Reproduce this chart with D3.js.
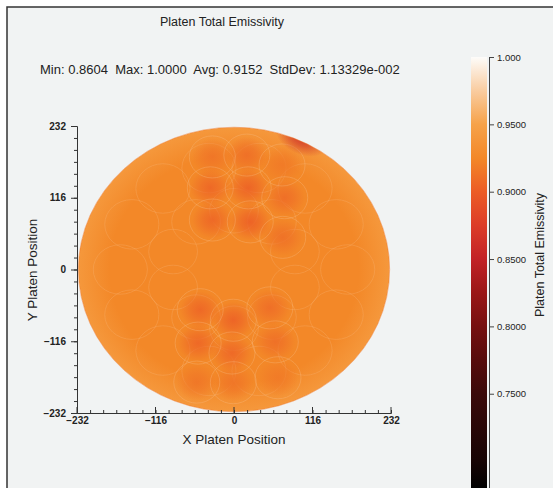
<!DOCTYPE html>
<html>
<head>
<meta charset="utf-8">
<script src="https://cdn.jsdelivr.net/npm/d3@7"></script>
<style>
  body { margin: 0; background: #fff; }
  svg text { font-family: "Liberation Sans", Arial, sans-serif; fill: #222; }
</style>
</head>
<body>
<div class="heatmap"></div>
<script>
// declare global values
const WIDTH = 553;
const HEIGHT = 488;

// axis ticks and labels
const axisTicks = [-232, -116, 0, 116, 232];
const colorTicks = [1.0, 0.95, 0.9, 0.85, 0.8, 0.75];
const colorTickLabels = ["1.000", "0.9500", "0.9000", "0.8500", "0.8000", "0.7500"];

// colour map stops (value -> colour)
const cmapValues = [0.68, 0.70, 0.75, 0.775, 0.80, 0.825, 0.85, 0.875, 0.90, 0.925, 0.95, 0.975, 1.0];
const cmapColors = ["#000000", "#170404", "#3b0a0a", "#570c0c", "#761010", "#9a1717", "#c22226",
  "#dc3c28", "#ec5c26", "#f38828", "#f6a24a", "#f9cca0", "#fdfcfa"];

// platen disk
const platenRadius = 230;
const platenBase = 0.925;
const platenEdge = 0.94;

// lamp spots (dark zones) in platen coordinates
const spotX = [-32, 19, 71, -35, 21, 75, -32, 24, 72, -50, -1, 53, -53, -3, 61, -55, -1, 65];
const spotY = [182, 185, 169, 132, 132, 116, 80, 77, 52, -65, -82, -62, -119, -135, -117, -182, -183, -175];
const spotValue = [0.914, 0.911, 0.917, 0.906, 0.904, 0.91, 0.906, 0.903, 0.912,
  0.906, 0.904, 0.91, 0.906, 0.907, 0.911, 0.915, 0.914, 0.917];

// dark rim patch (minimum)
const rimX = [100];
const rimY = [212];
const rimValue = [0.8604];

// faint zone outlines
const outerRingX = [168, 151, 105, 37, -37, -105, -151, -168, -151, -105, -37, 37, 105, 151];
const outerRingY = [0, 73, 131, 164, 164, 131, 73, 0, -73, -131, -164, -164, -131, -73];
const innerRingX = [90, 56, 0, -56, -90, -90, -56, 0, 56, 90];
const innerRingY = [29, 77, 95, 77, 29, -29, -77, -95, -77, -29];

const title = "Platen Total Emissivity";
const stats = "Min: 0.8604  Max: 1.0000  Avg: 0.9152  StdDev: 1.13329e-002";

// scales
var x = d3.scaleLinear().domain([-232, 232]).range([77, 391]);
var y = d3.scaleLinear().domain([-232, 232]).range([413, 126]);
var color = d3.scaleLinear().domain(cmapValues).range(cmapColors).clamp(true);
var cy = d3.scaleLinear().domain([0.68, 1.0]).range([488, 57]);

var svg = d3
  .select(".heatmap")
  .append("svg")
  .attr("width", WIDTH)
  .attr("height", HEIGHT);

// frame and background
svg.append("rect").attr("x", 0).attr("y", 0).attr("width", WIDTH).attr("height", HEIGHT).attr("fill", "#fff");
svg.append("rect")
  .attr("x", 7).attr("y", 7).attr("width", WIDTH).attr("height", HEIGHT)
  .attr("fill", "#f1f3f3").attr("stroke", "#333").attr("stroke-width", 1.5);

var defs = svg.append("defs");

// colour bar gradient
var barGrad = defs.append("linearGradient")
  .attr("id", "barGrad").attr("x1", 0).attr("y1", 1).attr("x2", 0).attr("y2", 0);
cmapValues.forEach(function (v, i) {
  barGrad.append("stop")
    .attr("offset", (v - 0.68) / (1.0 - 0.68))
    .attr("stop-color", cmapColors[i]);
});

// disk gradient (slightly lighter at the rim)
var diskGrad = defs.append("radialGradient").attr("id", "diskGrad");
diskGrad.append("stop").attr("offset", 0).attr("stop-color", color(platenBase));
diskGrad.append("stop").attr("offset", 0.8).attr("stop-color", color(platenBase));
diskGrad.append("stop").attr("offset", 1).attr("stop-color", color(platenEdge));

var rx = x(platenRadius) - x(0);
var ry = y(0) - y(platenRadius);

defs.append("clipPath").attr("id", "diskClip")
  .append("ellipse")
  .attr("cx", x(0)).attr("cy", y(0)).attr("rx", rx).attr("ry", ry);

// spot gradients, one per value
function spotGradient(id, v) {
  var g = defs.append("radialGradient").attr("id", id);
  g.append("stop").attr("offset", 0).attr("stop-color", color(v)).attr("stop-opacity", 0.95);
  g.append("stop").attr("offset", 0.45).attr("stop-color", color(v)).attr("stop-opacity", 0.6);
  g.append("stop").attr("offset", 1).attr("stop-color", color(v)).attr("stop-opacity", 0);
  return "url(#" + id + ")";
}

var plate = svg.append("g").attr("clip-path", "url(#diskClip)");

plate.append("ellipse")
  .attr("cx", x(0)).attr("cy", y(0)).attr("rx", rx).attr("ry", ry)
  .attr("fill", "url(#diskGrad)");

// zone outlines
function outlines(xs, ys, r, op) {
  plate.append("g")
    .selectAll("ellipse")
    .data(xs)
    .join("ellipse")
    .attr("cx", function (d) { return x(d); })
    .attr("cy", function (d, i) { return y(ys[i]); })
    .attr("rx", x(r) - x(0))
    .attr("ry", y(0) - y(r))
    .attr("fill", "none")
    .attr("stroke", "#f9c08a")
    .attr("stroke-opacity", op)
    .attr("stroke-width", 0.8);
}
outlines(outerRingX, outerRingY, 40, 0.3);
outlines(innerRingX, innerRingY, 36, 0.3);

// dark spots
plate.append("g")
  .selectAll("ellipse")
  .data(spotX)
  .join("ellipse")
  .attr("cx", function (d) { return x(d); })
  .attr("cy", function (d, i) { return y(spotY[i]); })
  .attr("rx", x(30) - x(0))
  .attr("ry", y(0) - y(30))
  .attr("fill", function (d, i) { return spotGradient("spot" + i, spotValue[i]); });

outlines(spotX, spotY, 34, 0.4);

// rim patch, hugging the upper-right edge
plate.append("g")
  .selectAll("ellipse")
  .data(rimX)
  .join("ellipse")
  .attr("cx", function (d) { return x(d); })
  .attr("cy", function (d, i) { return y(rimY[i]); })
  .attr("rx", x(40) - x(0))
  .attr("ry", y(0) - y(26))
  .attr("transform", function (d, i) {
    return "rotate(24," + x(d) + "," + y(rimY[i]) + ")";
  })
  .attr("fill", function (d, i) { return spotGradient("rim" + i, rimValue[i]); })
  .attr("fill-opacity", 0.9);

svg.append("ellipse")
  .attr("cx", x(0)).attr("cy", y(0)).attr("rx", rx).attr("ry", ry)
  .attr("fill", "none").attr("stroke", color(0.915)).attr("stroke-opacity", 0.5);

// axes
var minorTicks = d3.range(0, 25).map(function (i) { return -232 + i * 464 / 24; });

svg.append("g")
  .attr("transform", "translate(0,413)")
  .call(d3.axisTop(x).tickValues(minorTicks).tickSize(3).tickFormat(""))
  .call(function (g) { g.selectAll("line, path").attr("stroke", "#333"); });

svg.append("g")
  .attr("transform", "translate(0,413)")
  .call(d3.axisBottom(x).tickValues(axisTicks).tickSizeInner(0).tickSizeOuter(0).tickPadding(4))
  .call(function (g) { g.select(".domain").remove(); })
  .call(function (g) {
    g.selectAll(".tick text").attr("font-size", 10).attr("font-weight", "bold").attr("fill", "#333")
      .style("font-family", "'Liberation Sans', Arial, sans-serif");
  });

svg.append("g")
  .attr("transform", "translate(0,413)")
  .selectAll("line")
  .data(axisTicks)
  .join("line")
  .attr("x1", function (d) { return x(d); }).attr("x2", function (d) { return x(d); })
  .attr("y1", -6).attr("y2", 0).attr("stroke", "#333");

svg.append("g")
  .attr("transform", "translate(77,0)")
  .call(d3.axisLeft(y).tickValues(minorTicks).tickSize(3).tickFormat(""))
  .call(function (g) { g.selectAll("line, path").attr("stroke", "#333"); });

svg.append("g")
  .attr("transform", "translate(77,0)")
  .call(d3.axisLeft(y).tickValues(axisTicks).tickSizeInner(6).tickSizeOuter(0).tickPadding(5))
  .call(function (g) { g.select(".domain").remove(); })
  .call(function (g) { g.selectAll(".tick line").attr("stroke", "#333"); })
  .call(function (g) {
    g.selectAll(".tick text").attr("font-size", 10).attr("font-weight", "bold").attr("fill", "#333")
      .style("font-family", "'Liberation Sans', Arial, sans-serif");
  });

// colour bar
svg.append("rect")
  .attr("x", 471).attr("y", cy(1.0)).attr("width", 16).attr("height", cy(0.68) - cy(1.0))
  .attr("fill", "url(#barGrad)");

svg.append("g")
  .attr("transform", "translate(489,0)")
  .call(d3.axisRight(cy).tickValues(colorTicks).tickSizeInner(5).tickSizeOuter(0).tickPadding(3)
    .tickFormat(function (d, i) { return colorTickLabels[i]; }))
  .call(function (g) { g.selectAll("line, path").attr("stroke", "#444"); })
  .call(function (g) {
    g.selectAll(".tick text").attr("font-size", 9.5).attr("fill", "#333")
      .style("font-family", "'Liberation Sans', Arial, sans-serif");
  });

// titles and labels
svg.append("text").attr("x", 222).attr("y", 26).attr("text-anchor", "middle")
  .attr("font-size", 12.5).attr("fill", "#111").text(title);

svg.append("text").attr("x", 40).attr("y", 74)
  .attr("font-size", 13).style("white-space", "pre").text(stats);

svg.append("text").attr("x", 234).attr("y", 444).attr("text-anchor", "middle")
  .attr("font-size", 13.5).text("X Platen Position");

svg.append("text").attr("transform", "translate(37,270) rotate(-90)").attr("text-anchor", "middle")
  .attr("font-size", 13.5).text("Y Platen Position");

svg.append("text").attr("transform", "translate(544,255) rotate(-90)").attr("text-anchor", "middle")
  .attr("font-size", 12.5).text("Platen Total Emissivity");
</script>
</body>
</html>
